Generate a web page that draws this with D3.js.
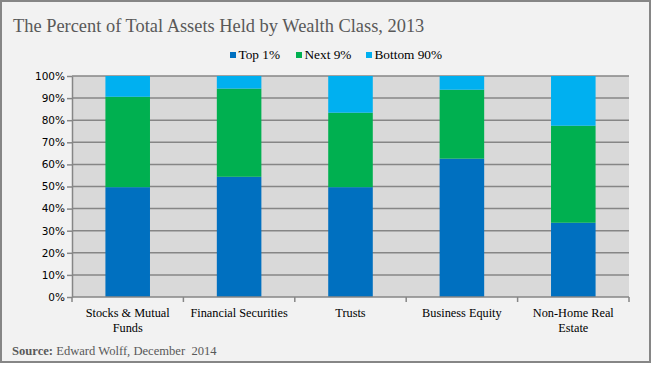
<!DOCTYPE html>
<html><head><meta charset="utf-8">
<script src="https://cdn.jsdelivr.net/npm/d3@7/dist/d3.min.js"></script>
<style>body{margin:0;background:#fff;}svg{display:block;}</style>
</head><body>
<svg id="c" width="652" height="365"></svg>
<script>
const categories = ["Stocks & Mutual Funds", "Financial Securities", "Trusts", "Business Equity", "Non-Home Real Estate"];
const categoryLines = [["Stocks & Mutual", "Funds"], ["Financial Securities"], ["Trusts"], ["Business Equity"], ["Non-Home Real", "Estate"]];
const seriesNames = ["Top 1%", "Next 9%", "Bottom 90%"];
const top1 = [49.7, 54.4, 49.7, 62.6, 33.6];
const next9 = [40.9, 39.9, 33.7, 31.2, 43.9];
const bottom90 = [9.4, 5.7, 16.6, 6.2, 22.5];
const yTicks = [0, 10, 20, 30, 40, 50, 60, 70, 80, 90, 100];
const colors = ["#0070C0", "#00B050", "#00B0F0"];

const svg = d3.select("#c");
svg.append("rect").attr("x", 1).attr("y", 1).attr("width", 649).attr("height", 361)
  .attr("fill", "#F2F2F2").attr("stroke", "#868686").attr("stroke-width", 2);

svg.append("text").attr("x", 13).attr("y", 32).text("The Percent of Total Assets Held by Wealth Class, 2013")
  .attr("font-family", "Liberation Serif, serif").attr("font-size", 18.4).attr("fill", "#595959");

const m = {l: 72, r: 629, t: 76, b: 297};
const x = d3.scaleBand().domain(categories).range([m.l, m.r]).paddingInner(0.6).paddingOuter(0.3);
const y = d3.scaleLinear().domain([0, 100]).range([m.b, m.t]);

svg.append("rect").attr("x", m.l).attr("y", m.t).attr("width", m.r - m.l).attr("height", m.b - m.t).attr("fill", "#D9D9D9");

// gridlines
svg.append("g").selectAll("line").data(yTicks.filter(d => d > 0)).join("line")
  .attr("x1", m.l).attr("x2", m.r).attr("y1", d => y(d)).attr("y2", d => y(d))
  .attr("stroke", "#868686").attr("stroke-width", 1.5);

const rows = categories.map((c, i) => ({cat: c, "Top 1%": top1[i], "Next 9%": next9[i], "Bottom 90%": bottom90[i]}));
const stack = d3.stack().keys(seriesNames)(rows);
svg.append("g").selectAll("g").data(stack).join("g").attr("fill", (d, i) => colors[i])
  .selectAll("rect").data(d => d).join("rect")
  .attr("x", d => x(d.data.cat)).attr("width", x.bandwidth())
  .attr("y", d => y(d[1])).attr("height", d => y(d[0]) - y(d[1]));

// y axis
const yAxis = svg.append("g").attr("transform", `translate(${m.l},0)`)
  .call(d3.axisLeft(y).tickValues(yTicks).tickFormat(d => d + "%").tickSize(5).tickSizeOuter(0));
yAxis.select(".domain").attr("stroke", "#868686").attr("stroke-width", 1.5);
yAxis.selectAll(".tick line").attr("stroke", "#868686").attr("stroke-width", 1.5);
yAxis.selectAll("text").attr("font-family", "DejaVu Sans, sans-serif").attr("font-size", 10.5).attr("fill", "#000").attr("x", -7);

// x axis
const step = (m.r - m.l) / categories.length;
const xg = svg.append("g");
xg.append("line").attr("x1", m.l).attr("x2", m.r).attr("y1", m.b).attr("y2", m.b).attr("stroke", "#868686").attr("stroke-width", 1.5);
xg.selectAll("line.t").data(d3.range(categories.length + 1)).join("line").attr("class", "t")
  .attr("x1", i => m.l + i * step).attr("x2", i => m.l + i * step).attr("y1", m.b).attr("y2", m.b + 5)
  .attr("stroke", "#868686").attr("stroke-width", 1.5);
xg.selectAll("text.c").data(categories).join("text").attr("class", "c")
  .attr("x", d => x(d) + x.bandwidth() / 2).attr("y", 317)
  .attr("text-anchor", "middle").attr("font-family", "Liberation Serif, serif").attr("font-size", 12.3).attr("fill", "#000")
  .each(function(d, i) {
    const t = d3.select(this);
    categoryLines[i].forEach((ln, j) => t.append("tspan").attr("x", x(d) + x.bandwidth() / 2).attr("dy", j ? 15 : 0).text(ln));
  });

// legend
const legX = [230, 296, 366];
const lg = svg.append("g").selectAll("g").data(seriesNames).join("g");
lg.append("rect").attr("x", (d, i) => legX[i]).attr("y", 52).attr("width", 6).attr("height", 6).attr("fill", (d, i) => colors[i]);
lg.append("text").attr("x", (d, i) => legX[i] + 8.5).attr("y", 59).text(d => d)
  .attr("font-family", "Liberation Serif, serif").attr("font-size", 13.3).attr("fill", "#000");

// source
const src = svg.append("text").attr("x", 12).attr("y", 355).attr("font-family", "Liberation Serif, serif").attr("font-size", 12.6).attr("fill", "#595959");
src.append("tspan").attr("font-weight", "bold").text("Source:");
src.append("tspan").attr("xml:space", "preserve").text(" Edward Wolff, December  2014").style("white-space", "pre");
</script>
</body></html>
